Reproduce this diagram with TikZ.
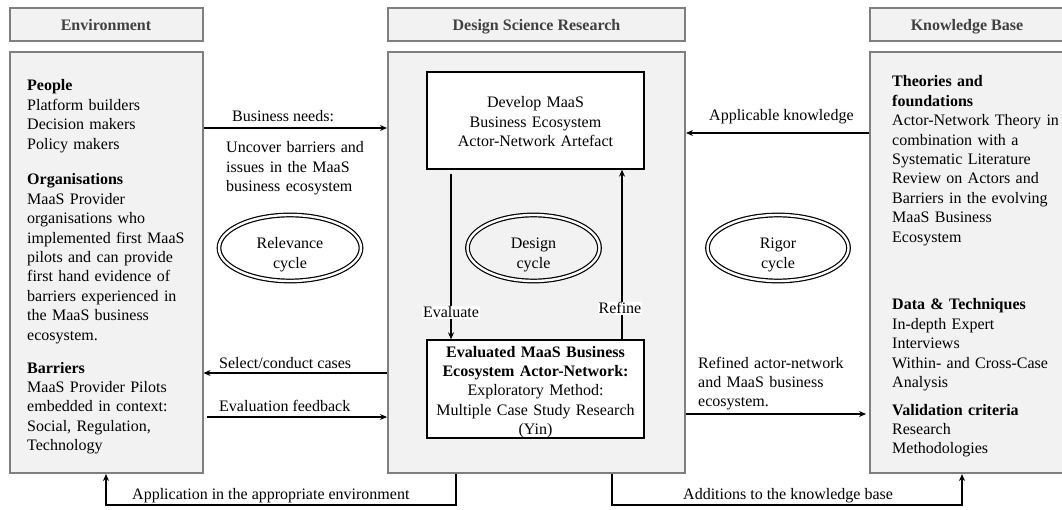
\documentclass[tikz,border=0pt]{standalone}
\usepackage{fontspec}
\setmainfont{Liberation Serif}
\usetikzlibrary{arrows.meta,shapes.geometric,calc}
\definecolor{boxfill}{HTML}{F2F2F2}
\definecolor{boxline}{HTML}{7F7F7F}
\definecolor{headtext}{HTML}{404040}
\begin{document}
\begin{tikzpicture}[x=1pt,y=-1pt,
  font=\fontsize{16}{19.4}\selectfont,
  outerbox/.style={draw=boxline, fill=boxfill, line width=2pt, inner sep=0pt},
  headbox/.style={outerbox, text height=11pt, text depth=0pt, text=headtext, font=\fontsize{16}{19.4}\selectfont\bfseries},
  innerbox/.style={draw=black, fill=white, line width=1.3pt, inner sep=0pt},
  cyc/.style={ellipse, draw=black, double=white, double distance=2.4pt, line width=1.2pt, inner sep=0pt, minimum height=66pt},
  body/.style={anchor=base west, align=left, text width=200pt, inner sep=0pt},
  ctext/.style={anchor=base, align=center, text width=220pt, inner sep=0pt},
  lbl/.style={anchor=base west, inner sep=0pt},
  wlbl/.style={anchor=base, fill=white, inner sep=1pt},
  arr/.style={-{Stealth[length=7pt,width=6pt]}, line width=1.4pt},
]
\useasboundingbox (0,0) rectangle (1062,510);
\fill[white] (0,0) rectangle (1062,510);

% header boxes
\node[headbox, minimum width=193pt, minimum height=33pt] (envh) at (106,25) {Environment};
\node[headbox, minimum width=297pt, minimum height=33pt] (dsrh) at (536.5,25) {Design Science Research};
\node[headbox, minimum width=194pt, minimum height=33pt] (kbh) at (967,25) {Knowledge Base};

% main boxes
\node[outerbox, minimum width=193pt, minimum height=421pt] (env) at (106,262.5) {};
\node[outerbox, minimum width=297pt, minimum height=421pt] (dsr) at (536.5,262.5) {};
\node[outerbox, minimum width=194pt, minimum height=421pt] (kb) at (967,262.5) {};

% environment text
\node[body] (people) at (27,91) {\textbf{People}\\Platform builders\\Decision makers\\Policy makers};
\node[body] (orgs) at (27,185) {\textbf{Organisations}\\MaaS Provider\\organisations who\\implemented first MaaS\\pilots and can provide\\first hand evidence of\\barriers experienced in\\the MaaS business\\ecosystem.};
\node[body] (barr) at (27,373) {\textbf{Barriers}\\MaaS Provider Pilots\\embedded in context:\\Social, Regulation,\\Technology};

% knowledge base text
\node[body] (theo) at (892,87) {\textbf{Theories and}\\\textbf{foundations}\\Actor-Network Theory in\\combination with a\\Systematic Literature\\Review on Actors and\\Barriers in the evolving\\MaaS Business\\Ecosystem};
\node[body] (data) at (892,310) {\textbf{Data \& Techniques}\\In-depth Expert\\Interviews\\Within- and Cross-Case\\Analysis};
\node[body] (valid) at (892,415) {\textbf{Validation criteria}\\Research\\Methodologies};

% inner boxes
\node[innerbox, minimum width=217pt, minimum height=97pt] (dev) at (535.5,120.5) {};
\node[ctext] (devt) at (535.5,108) {Develop MaaS\\Business Ecosystem\\Actor-Network Artefact};
\node[innerbox, minimum width=217pt, minimum height=98pt] (evd) at (535.5,389) {};
\node[ctext] (evdt) at (535.5,357) {\textbf{Evaluated MaaS Business}\\\textbf{Ecosystem Actor-Network:}\\Exploratory Method:\\Multiple Case Study Research\\(Yin)};

% cycles
\node[cyc, minimum width=142pt] (rel) at (290,248) {};
\node[ctext] (relt) at (290,249) {Relevance\\cycle};
\node[cyc, minimum width=132pt] (des) at (533.5,248) {};
\node[ctext] (dest) at (533.5,249) {Design\\cycle};
\node[cyc, minimum width=141pt] (rig) at (778,248) {};
\node[ctext] (rigt) at (778,249) {Rigor\\cycle};

% level coordinates
\coordinate (ybn) at (0,128);
\coordinate (ysc) at (0,373);
\coordinate (yef) at (0,417);
\coordinate (yak) at (0,133);
\coordinate (yra) at (0,414);
\coordinate (evx) at (451,0);
\coordinate (rfx) at (622,0);
\coordinate (apa) at (456,505);
\coordinate (apb) at (106,505);
\coordinate (ada) at (612,505);
\coordinate (adb) at (962,505);

% horizontal connectors
\draw[arr] (env.east |- ybn) -- (dsr.west |- ybn);
\draw[arr] (dsr.west |- ysc) -- (env.east |- ysc);
\draw[arr, shorten <=3pt] (env.east |- yef) -- (dsr.west |- yef);
\draw[arr] (kb.west |- yak) -- (dsr.east |- yak);
\draw[arr, shorten >=3pt] (dsr.east |- yra) -- (kb.west |- yra);

% labels on connectors
\node[lbl] (bnl) at (232,122) {Business needs:};
\node[body] (bnl2) at (226,153) {Uncover barriers and\\issues in the MaaS\\business ecosystem};
\node[lbl] (scl) at (219,368) {Select/conduct cases};
\node[lbl] (efl) at (219,411) {Evaluation feedback};
\node[lbl] (akl) at (709,121) {Applicable knowledge};
\node[body] (ral) at (698,368) {Refined actor-network\\and MaaS business\\ecosystem.};

% design cycle arrows
\draw[arr, shorten <=4pt] (dev.south -| evx) -- (evd.north -| evx);
\draw[arr] (evd.north -| rfx) -- (dev.south -| rfx);
\node[wlbl] (evl) at (451,318) {Evaluate};
\node[wlbl] (rfl) at (620,314) {Refine};

% bottom connectors
\draw[arr] (dsr.south -| apa) -- (apa) -- (apb) -- (env.south -| apb);
\draw[arr] (dsr.south -| ada) -- (ada) -- (adb) -- (kb.south -| adb);
\node[lbl] (apl) at (132,499) {Application in the appropriate environment};
\node[lbl] (adl) at (683,499) {Additions to the knowledge base};
\end{tikzpicture}
\end{document}
